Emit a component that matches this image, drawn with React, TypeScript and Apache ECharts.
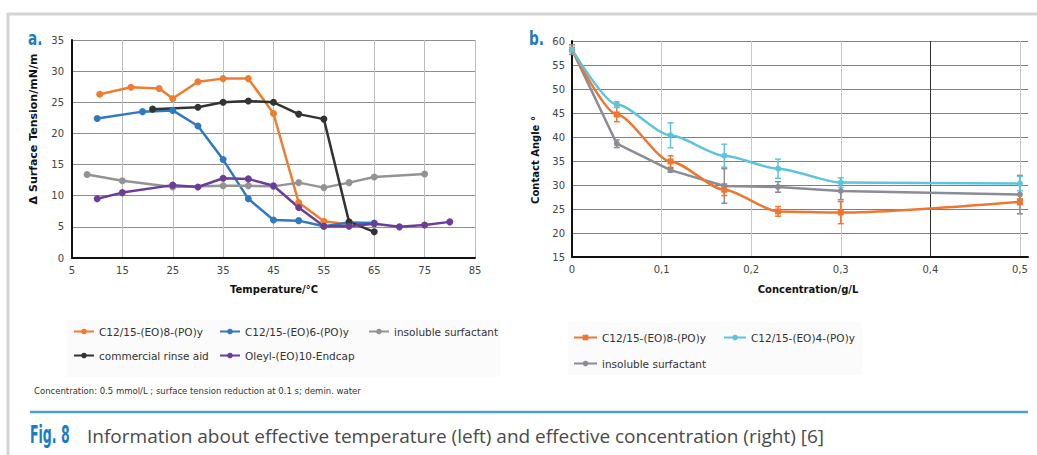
import { useEffect, useRef } from "react";
import * as echarts from "echarts";

// ---- Panel a: surface tension vs temperature ----
const tempOrange: [number, number][] = [[10.5, 26.3], [16.7, 27.4], [22.3, 27.2], [25, 25.6], [30, 28.3], [35, 28.8], [40, 28.8], [45, 23.2], [50, 8.9], [55, 5.9], [60, 5.4]];
const tempBlue: [number, number][] = [[10, 22.4], [19, 23.5], [25, 23.7], [30, 21.2], [35, 15.8], [40, 9.5], [45, 6.1], [50, 6.0], [55, 5.1], [60, 5.7], [65, 5.6]];
const tempGray: [number, number][] = [[8, 13.4], [15, 12.4], [25, 11.4], [35, 11.6], [40, 11.6], [45, 11.5], [50, 12.1], [55, 11.3], [60, 12.1], [65, 13.0], [75, 13.5]];
const tempBlack: [number, number][] = [[21, 23.9], [30, 24.2], [35, 25.0], [40, 25.2], [45, 25.0], [50, 23.1], [55, 22.3], [60, 5.8], [65, 4.2]];
const tempPurple: [number, number][] = [[10, 9.5], [15, 10.5], [25, 11.7], [30, 11.4], [35, 12.8], [40, 12.7], [45, 11.6], [50, 8.1], [55, 5.1], [60, 5.1], [65, 5.5], [70, 5.0], [75, 5.3], [80, 5.8]];

// ---- Panel b: contact angle vs concentration ----
const conc = [0, 0.05, 0.11, 0.17, 0.23, 0.3, 0.5];
const angleOrange = [58.2, 44.7, 34.9, 29.0, 24.5, 24.25, 26.5];
const errOrange = [0, 1.5, 1.2, 1.2, 1.0, 2.3, 0.6];
const angleCyan = [58.2, 46.75, 40.35, 36.1, 33.4, 30.5, 30.3];
const errCyan = [0, 0.6, 2.6, 2.4, 2.0, 1.0, 1.5];
const angleGray = [58.2, 38.6, 33.1, 29.8, 29.6, 28.75, 28.0];
const errGray = [1.0, 0.8, 0.4, 3.6, 1.1, 1.8, 4.0];

const C_ORANGE = "#ef7d2f";
const C_BLUE = "#3079c2";
const C_GRAY = "#939393";
const C_BLACK = "#333333";
const C_PURPLE = "#6a3d9a";
const C_R_ORANGE = "#ee7630";
const C_R_CYAN = "#5dc4dd";
const C_R_GRAY = "#8a8c96";

const FONT = "DejaVu Sans";
const COND = "'Liberation Sans Narrow', 'DejaVu Sans Condensed', sans-serif";

const lineSeries = (name: string, color: string, data: any[], xi: number, size = 7, extra: any = {}) => ({
  type: "line",
  name,
  xAxisIndex: xi,
  yAxisIndex: xi,
  data,
  symbol: "circle",
  symbolSize: size,
  lineStyle: { color, width: 2.5 },
  itemStyle: { color },
  ...extra,
});

const errSeries = (color: string, means: number[], errs: number[]) => ({
  type: "custom",
  name: "err",
  xAxisIndex: 1,
  yAxisIndex: 1,
  z: 3,
  data: conc.map((c, i) => [c, means[i] - errs[i], means[i] + errs[i]]).filter((_, i) => errs[i] > 0),
  encode: { x: 0, y: [1, 2] },
  renderItem: (_params: any, api: any) => {
    const x = api.value(0);
    const a = api.coord([x, api.value(2)]);
    const b = api.coord([x, api.value(1)]);
    const w = 3;
    const style = { stroke: color, lineWidth: 1.5 };
    return {
      type: "group",
      children: [
        { type: "line", shape: { x1: a[0], y1: a[1], x2: b[0], y2: b[1] }, style },
        { type: "line", shape: { x1: a[0] - w, y1: a[1], x2: a[0] + w, y2: a[1] }, style },
        { type: "line", shape: { x1: b[0] - w, y1: b[1], x2: b[0] + w, y2: b[1] }, style },
      ],
    };
  },
});

const legendItem = (name: string, left: number, top: number, label?: string, w = 20) => ({
  data: [name],
  left,
  top,
  padding: 0,
  itemWidth: w,
  itemHeight: 7,
  itemGap: 0,
  selectedMode: false,
  textStyle: { fontFamily: FONT, fontSize: 10.5, color: "#333" },
  ...(label ? { formatter: () => label } : {}),
});

const axisLabelStyle = { fontFamily: FONT, fontSize: 10, color: "#444" };

export default function App() {
  const ref = useRef<HTMLDivElement>(null);
  useEffect(() => {
    const chart = echarts.init(ref.current!, null, { renderer: "svg" });
    const option: any = {
      animation: false,
      backgroundColor: "#ffffff",
      grid: [
        { left: 72, top: 40, width: 403, height: 218 },
        { left: 572, top: 41, width: 456, height: 216 },
      ],
      xAxis: [
        {
          type: "value", gridIndex: 0, min: 5, max: 85, interval: 10,
          axisLine: { lineStyle: { color: "#111", width: 2 } },
          axisTick: { show: false },
          axisLabel: { ...axisLabelStyle, margin: 7 },
          splitLine: { show: true, lineStyle: { color: "#bdbdbd", width: 1 } },
        },
        {
          type: "value", gridIndex: 1, min: 0, max: 0.509, interval: 0.1,
          axisLine: { lineStyle: { color: "#111", width: 2 } },
          axisTick: { show: false },
          axisLabel: {
            ...axisLabelStyle, margin: 7, showMaxLabel: false,
            formatter: (v: number) => (v === 0 ? "0" : v.toFixed(1).replace(".", ",")),
          },
          splitLine: {
            show: true, showMaxLine: false,
            lineStyle: { color: ["#c8c8c8", "#c8c8c8", "#c8c8c8", "#c8c8c8", "#333333", "#c8c8c8"], width: 1 },
          },
        },
      ],
      yAxis: [
        {
          type: "value", gridIndex: 0, min: 0, max: 35, interval: 5,
          axisLine: { show: true, lineStyle: { color: "#111", width: 2 } },
          axisTick: { show: false },
          axisLabel: { ...axisLabelStyle, margin: 8 },
          splitLine: { show: true, lineStyle: { color: "#8f8f8f", width: 1 } },
        },
        {
          type: "value", gridIndex: 1, min: 15, max: 60, interval: 5,
          axisLine: { show: true, lineStyle: { color: "#111", width: 2 } },
          axisTick: { show: false },
          axisLabel: { ...axisLabelStyle, margin: 7 },
          splitLine: { show: true, lineStyle: { color: "#7f7f7f", width: 1 } },
        },
      ],
      legend: [
        legendItem("C12/15-(EO)8-(PO)y", 73, 326),
        legendItem("C12/15-(EO)6-(PO)y", 219, 326),
        legendItem("insoluble surfactant", 368, 326),
        legendItem("commercial rinse aid", 73, 350),
        legendItem("Oleyl-(EO)10-Endcap", 219, 350),
        legendItem("b-orange", 573, 332, "C12/15-(EO)8-(PO)y", 23),
        legendItem("b-cyan", 723, 332, "C12/15-(EO)4-(PO)y", 22),
        legendItem("b-gray", 573, 358, "insoluble surfactant", 23),
      ],
      series: [
        lineSeries("C12/15-(EO)8-(PO)y", C_ORANGE, tempOrange, 0),
        lineSeries("C12/15-(EO)6-(PO)y", C_BLUE, tempBlue, 0),
        lineSeries("insoluble surfactant", C_GRAY, tempGray, 0),
        lineSeries("commercial rinse aid", C_BLACK, tempBlack, 0),
        lineSeries("Oleyl-(EO)10-Endcap", C_PURPLE, tempPurple, 0),
        lineSeries("b-gray", C_R_GRAY, conc.map((c, i) => [c, angleGray[i]]), 1, 6),
        lineSeries("b-orange", C_R_ORANGE, conc.map((c, i) => [c, angleOrange[i]]), 1, 6, { symbol: "rect", smooth: 0.25, smoothMonotone: "x" }),
        lineSeries("b-cyan", C_R_CYAN, conc.map((c, i) => [c, angleCyan[i]]), 1, 6, { smooth: 0.25, smoothMonotone: "x" }),
        errSeries(C_R_GRAY, angleGray, errGray),
        errSeries(C_R_ORANGE, angleOrange, errOrange),
        errSeries(C_R_CYAN, angleCyan, errCyan),
      ],
      graphic: [
        // frame
        { type: "line", shape: { x1: 7, y1: 14, x2: 1037, y2: 14 }, style: { stroke: "#d3d3d3", lineWidth: 3 }, silent: true },
        { type: "line", shape: { x1: 8, y1: 13, x2: 8, y2: 455 }, style: { stroke: "#d3d3d3", lineWidth: 3 }, silent: true },
        // legend backgrounds
        { type: "rect", shape: { x: 67, y: 320, width: 433, height: 57 }, style: { fill: "#fbfbfb" }, z: -10, silent: true },
        { type: "rect", shape: { x: 568, y: 322, width: 294, height: 53 }, style: { fill: "#fbfbfb" }, z: -10, silent: true },
        // panel labels
        { type: "text", x: 28, y: 29, scaleX: 0.8, style: { text: "a.", font: `bold 19px ${COND}`, fill: "#1d7cc2" } },
        { type: "text", x: 529, y: 29, scaleX: 0.8, style: { text: "b.", font: `bold 19px ${COND}`, fill: "#1d7cc2" } },
        // axis titles
        { type: "text", x: 274, y: 289, style: { text: "Temperature/°C", font: `bold 10px ${FONT}`, fill: "#111", align: "center", verticalAlign: "middle" } },
        { type: "text", x: 808, y: 289, style: { text: "Concentration/g/L", font: `bold 10px ${FONT}`, fill: "#111", align: "center", verticalAlign: "middle" } },
        { type: "text", x: 33, y: 129, rotation: Math.PI / 2, style: { text: "Δ Surface Tension/mN/m", font: `bold 11px ${FONT}`, fill: "#111", align: "center", verticalAlign: "middle" } },
        { type: "text", x: 535, y: 160, rotation: Math.PI / 2, style: { text: "Contact Angle °", font: `bold 10px ${FONT}`, fill: "#111", align: "center", verticalAlign: "middle" } },
        // note
        { type: "text", x: 34, y: 391, style: { text: "Concentration: 0.5 mmol/L ; surface tension reduction at 0.1 s; demin. water", font: `8.5px ${FONT}`, fill: "#333", verticalAlign: "middle" } },
        // caption
        { type: "line", shape: { x1: 30, y1: 412, x2: 1028, y2: 412 }, style: { stroke: "#4a9fd6", lineWidth: 2.5 }, silent: true },
        { type: "text", x: 30, y: 435, scaleX: 0.58, style: { text: "Fig. 8", font: `bold 24px ${COND}`, fill: "#1d7cc2", verticalAlign: "middle" } },
        { type: "text", x: 87, y: 436, style: { text: "Information about effective temperature (left) and effective concentration (right) [6]", font: "19px 'Open Sans'", fill: "#4a4a4a", verticalAlign: "middle" } },
      ],
    };
    chart.setOption(option);
    return () => chart.dispose();
  }, []);
  return <div ref={ref} style={{ position: "absolute", left: 0, top: 0, width: 1037, height: 455, background: "#fff" }} />;
}
